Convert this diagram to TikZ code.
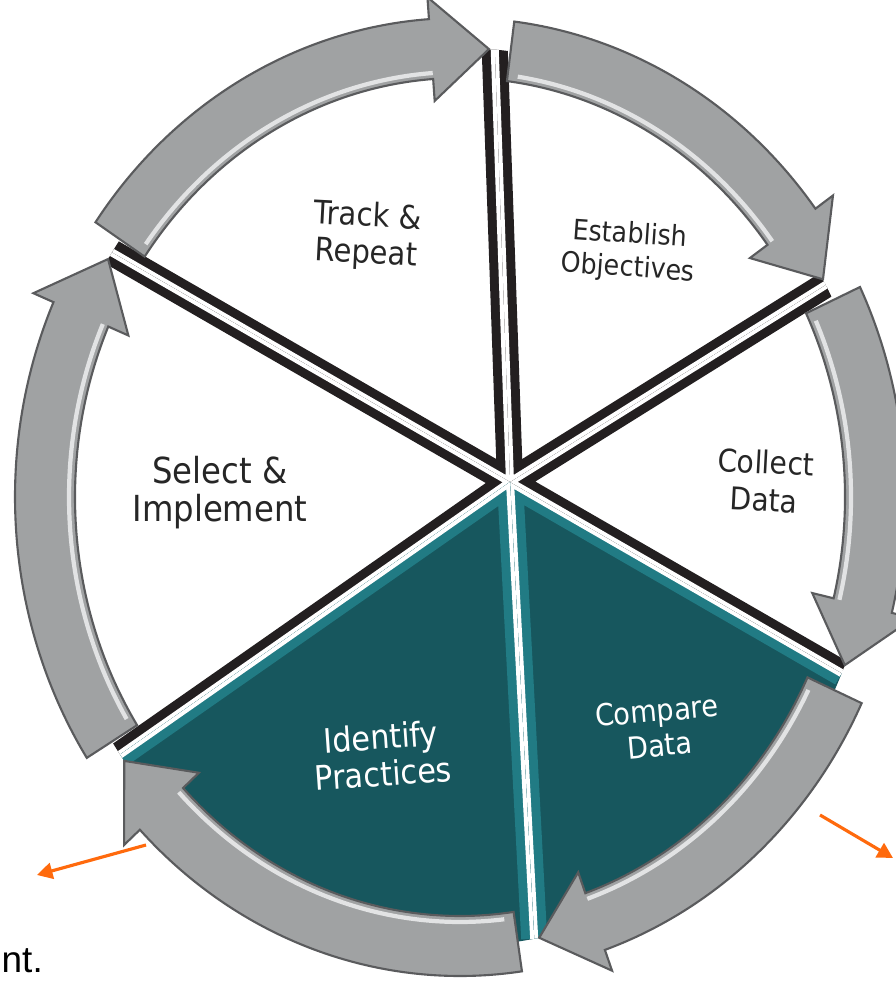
\documentclass[tikz,border=0pt]{standalone}
\usepackage{fontspec}
\setmainfont{DejaVu Sans Condensed}
\newfontfamily\arialfont{Liberation Sans}
\usetikzlibrary{arrows.meta}

\definecolor{tealfill}{HTML}{17575E}
\definecolor{tealrim}{HTML}{217B84}
\definecolor{edgedark}{HTML}{231F20}
\definecolor{bandgray}{HTML}{A0A2A3}
\definecolor{bandlight}{HTML}{E2E3E4}
\definecolor{bandedge}{HTML}{5A5B5D}
\definecolor{pointer}{HTML}{FF6A0D}

\tikzset{
  stage text/.style={align=center, text=black!85},
  teal text/.style={align=center, text=white},
  pointer arrow/.style={draw=pointer, line width=0.9pt, -{Triangle[length=4.4pt, width=4.6pt]}},
}

\begin{document}
\begin{tikzpicture}[x=0.01cm, y=0.01cm]
\useasboundingbox (0,0) rectangle (895,983);

\begin{scope}[shift={(460,486)}]
\coordinate (hub) at (50,15);

% six sectors, counter-clockwise from the bottom
\foreach \from/\to/\tint/\rim in {-79.7/-23.1/tealfill/tealrim, -23.1/28.2/white/edgedark,
    28.2/85.2/white/edgedark, 85.2/147/white/edgedark, 147/215/white/edgedark, 215/280.3/tealfill/tealrim}
{
  \begin{scope}
    \clip (hub) -- (\from:415 and 449) arc[start angle=\from, end angle=\to, x radius=415, y radius=449] -- cycle;
    \fill[\tint] (-500,-500) rectangle (500,500);
    \draw[\rim, line width=2.6mm, line join=round] (\from:415 and 449) -- (hub) -- (\to:415 and 449);
    \draw[white, line width=0.8mm, line join=round] (\from:415 and 449) -- (hub) -- (\to:415 and 449);
  \end{scope}
}

% curved arrows, clockwise: tail / head base / tip
\foreach \ts/\tb/\tt in {145/94/86, 83/37/29, 26/-14/-22, -25.5/-71/-79, -82/-136/-144, 213/156/148}
{
  \pgfmathsetmacro\tsin{\ts-1.5}
  \fill[bandgray, draw=bandedge, line width=0.6pt, line join=miter]
    (\ts:445 and 479) arc[start angle=\ts, end angle=\tb, x radius=445, y radius=479]
    -- (\tb:467 and 501) -- (\tt:415 and 449) -- (\tb:363 and 397)
    -- (\tb:385 and 419) arc[start angle=\tb, end angle=\ts, x radius=385, y radius=419] -- cycle;
  \draw[bandlight, line width=1.2pt]
    (\tb:391 and 425) arc[start angle=\tb, end angle=\tsin, x radius=391, y radius=425];
}
\end{scope}

% stage labels
\node[stage text, font=\fontsize{9.2}{10.5}\selectfont, rotate=-3] (track) at (367,747) {Track \&\\Repeat};
\node[stage text, font=\fontsize{8}{9.5}\selectfont, rotate=-4] (establish) at (629,731) {Establish\\Objectives};
\node[stage text, font=\fontsize{8.9}{10.8}\selectfont, rotate=-3] (collect) at (765,502) {Collect\\Data};
\node[teal text, font=\fontsize{8.6}{9.9}\selectfont, rotate=5] (compare) at (658,255) {Compare\\Data};
\node[teal text, font=\fontsize{9.6}{10.5}\selectfont, rotate=4] (identify) at (382,228) {Identify\\Practices};
\node[stage text, font=\fontsize{10.2}{10.8}\selectfont] (select) at (220,490) {Select \&\\Implement};

% orange pointers and the cut-off word
\coordinate (left tail) at (146,138);
\coordinate (left tip) at (37,108);
\coordinate (right tail) at (820,168);
\coordinate (right tip) at (893,125);
\draw[pointer arrow] (left tail) -- (left tip);
\draw[pointer arrow] (right tail) -- (right tip);

\node[anchor=base west, inner sep=0pt, font=\arialfont\fontsize{10.5}{12}\selectfont] (fragment) at (1,11) {nt.};

\end{tikzpicture}
\end{document}
